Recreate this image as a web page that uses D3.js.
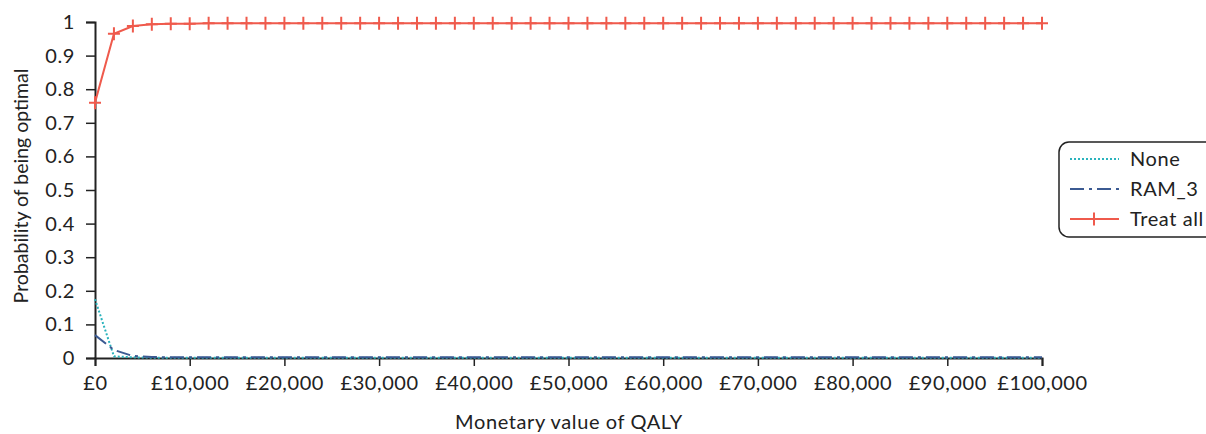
<!DOCTYPE html>
<html><head><meta charset="utf-8">
<script src="https://cdn.jsdelivr.net/npm/d3@7"></script>
<style>body{margin:0;background:#fff;font-family:Lato,"Open Sans",sans-serif;}</style>
</head><body><svg id="c" width="1206" height="434"></svg>
<script>
const wtp = d3.range(0, 100001, 2000);
const treatAll = [0.76,0.965,0.988,0.993,0.995,0.995,0.996,0.996,0.996,0.996,0.996,0.996,0.996,0.996,0.996,0.996,0.996,0.996,0.996,0.996,0.996,0.996,0.996,0.996,0.996,0.996,0.996,0.996,0.996,0.996,0.996,0.996,0.996,0.996,0.996,0.996,0.996,0.996,0.996,0.996,0.996,0.996,0.996,0.996,0.996,0.996,0.996,0.996,0.996,0.996,0.996];
const none = [0.175,0.005,0.002,0.001,0.001,0.001,0.001,0.001,0.001,0.001,0.001,0.001,0.001,0.001,0.001,0.001,0.001,0.001,0.001,0.001,0.001,0.001,0.001,0.001,0.001,0.001,0.001,0.001,0.001,0.001,0.001,0.001,0.001,0.001,0.001,0.001,0.001,0.001,0.001,0.001,0.001,0.001,0.001,0.001,0.001,0.001,0.001,0.001,0.001,0.001,0.001];
const ram3 = [0.068,0.024,0.006,0.003,0.002,0.002,0.002,0.002,0.002,0.002,0.002,0.002,0.002,0.002,0.002,0.002,0.002,0.002,0.002,0.002,0.002,0.002,0.002,0.002,0.002,0.002,0.002,0.002,0.002,0.002,0.002,0.002,0.002,0.002,0.002,0.002,0.002,0.002,0.002,0.002,0.002,0.002,0.002,0.002,0.002,0.002,0.002,0.002,0.002,0.002,0.002];
const xTicks = d3.range(0, 100001, 10000);
const yTicks = d3.range(0, 11).map(d => d / 10);
const seriesNames = ["None", "RAM_3", "Treat all"];

const svg = d3.select("#c");
const x = d3.scaleLinear().domain([0, 100000]).range([95, 1042]);
const y = d3.scaleLinear().domain([0, 1]).range([358, 22]);
const fmt = d => "£" + d3.format(",")(d);
const axisColor = "#222";
const FS = "20px", LS = "0.6px";

const ya = svg.append("g").attr("transform", "translate(95,0)")
  .call(d3.axisLeft(y).tickValues(yTicks).tickSize(9).tickPadding(11).tickFormat(d => d3.format("")(d)));
const xa = svg.append("g").attr("transform", "translate(0,358)")
  .call(d3.axisBottom(x).tickValues(xTicks).tickSize(8).tickPadding(10).tickFormat(fmt));
[ya, xa].forEach(a => {
  a.select(".domain").attr("stroke", axisColor).attr("stroke-width", 2);
  a.selectAll(".tick line").attr("stroke", axisColor).attr("stroke-width", 1.5);
  a.selectAll(".tick text").attr("fill", "#222").style("font-size", FS)
    .style("letter-spacing", LS).style("font-family", "Lato, sans-serif");
});

const line = d3.line().x((d, i) => x(wtp[i])).y(d => y(d));
const colNone = "#2bb3bd", colRam = "#3b5a92", colTreat = "#ef5a4c";

svg.append("path").datum(none).attr("d", line).attr("fill", "none")
  .attr("stroke", colNone).attr("stroke-width", 2).attr("stroke-dasharray", "2,2");
svg.append("path").datum(ram3).attr("d", line).attr("fill", "none")
  .attr("stroke", colRam).attr("stroke-width", 2).attr("stroke-dasharray", "14,5,3,5");
svg.append("path").datum(treatAll).attr("d", line).attr("fill", "none")
  .attr("stroke", colTreat).attr("stroke-width", 2);
svg.append("g").selectAll("path").data(treatAll).join("path")
  .attr("transform", (d, i) => `translate(${x(wtp[i])},${y(d)})`)
  .attr("d", "M-6,0H6M0,-6.5V6.5").attr("stroke", colTreat).attr("stroke-width", 2).attr("fill", "none");

svg.append("text").attr("x", 569).attr("y", 429).attr("text-anchor", "middle")
  .style("font-size", FS).style("letter-spacing", LS).attr("fill", "#222").text("Monetary value of QALY");
svg.append("text").attr("transform", "translate(28,186) rotate(-90)").attr("text-anchor", "middle")
  .style("font-size", "19.5px").attr("fill", "#222").text("Probability of being optimal");

const lg = svg.append("g");
lg.append("rect").attr("x", 1059).attr("y", 142).attr("width", 160).attr("height", 95).attr("rx", 10)
  .attr("fill", "#fff").attr("stroke", "#222").attr("stroke-width", 1.5);
const styles = [
  {c: colNone, dash: "2,2", mark: false},
  {c: colRam, dash: "14,5,3,5", mark: false},
  {c: colTreat, dash: null, mark: true}
];
seriesNames.forEach((n, i) => {
  const yy = 159 + i * 30;
  lg.append("line").attr("x1", 1070).attr("x2", 1119).attr("y1", yy).attr("y2", yy)
    .attr("stroke", styles[i].c).attr("stroke-width", 2).attr("stroke-dasharray", styles[i].dash);
  if (styles[i].mark) lg.append("path").attr("d", `M1088,${yy}H1100M1094,${yy-6.5}V${yy+6.5}`)
    .attr("stroke", styles[i].c).attr("stroke-width", 2);
  lg.append("text").attr("x", 1130).attr("y", yy + 7).style("font-size", FS).style("letter-spacing", LS)
    .attr("fill", "#222").text(n);
});
</script></body></html>
